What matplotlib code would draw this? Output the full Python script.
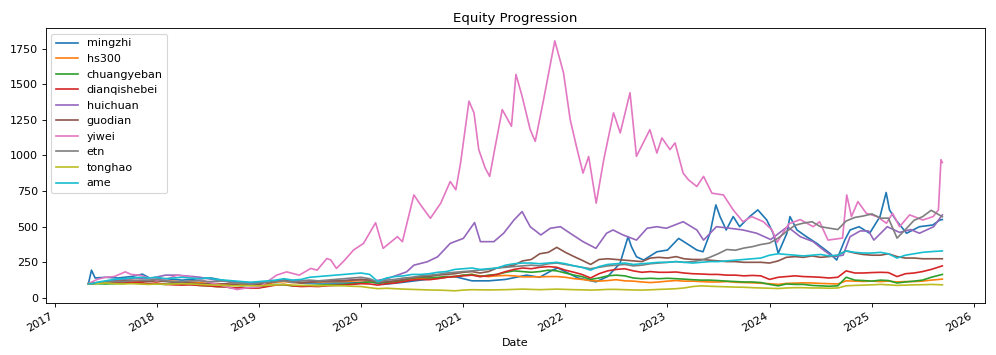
import pandas as pd
import matplotlib
matplotlib.use('Agg')
import matplotlib.pyplot as plt

# monthly sample dates: start, mid-May 2017, then month starts, then last day
months = pd.date_range('2017-06-01', '2025-08-01', freq='MS')
dates = pd.to_datetime(['2017-05-01', '2017-05-15']).append(months).append(pd.to_datetime(['2025-09-10']))

names = ['mingzhi', 'hs300', 'chuangyeban', 'dianqishebei', 'huichuan',
         'guodian', 'yiwei', 'etn', 'tonghao', 'ame']

# mingzhi read at its own turning points
mingzhi_dates = ['2017-05-01', '2017-05-12', '2017-05-25', '2017-07-01', '2017-08-15',
                 '2017-10-01', '2017-11-10', '2017-12-15', '2018-02-01', '2018-04-01',
                 '2018-06-01', '2018-07-15', '2018-09-01', '2018-11-01', '2019-01-01',
                 '2019-03-01', '2019-04-15', '2019-06-01', '2019-08-01', '2019-10-01',
                 '2019-12-01', '2020-02-01', '2020-03-20', '2020-06-01', '2020-08-01',
                 '2020-10-01', '2020-12-01', '2021-02-01', '2021-04-01', '2021-06-01',
                 '2021-08-15', '2021-10-01', '2021-11-15', '2021-12-05', '2022-01-15',
                 '2022-02-15', '2022-04-20', '2022-06-01', '2022-07-15', '2022-08-13',
                 '2022-08-25', '2022-09-12', '2022-10-08', '2022-11-24', '2023-01-01',
                 '2023-02-10', '2023-03-10', '2023-04-16', '2023-05-08', '2023-06-02',
                 '2023-06-23', '2023-07-08', '2023-07-30', '2023-08-24', '2023-09-16',
                 '2023-10-22', '2023-11-20', '2023-12-22', '2024-01-14', '2024-02-01',
                 '2024-03-03', '2024-03-14', '2024-04-08', '2024-05-12', '2024-06-18',
                 '2024-08-04', '2024-08-28', '2024-09-26', '2024-10-15', '2024-11-16',
                 '2024-12-24', '2025-01-30', '2025-02-21', '2025-03-05', '2025-03-28',
                 '2025-05-05', '2025-06-20', '2025-08-07', '2025-09-01', '2025-09-10']
mingzhi = [100, 195, 140, 145, 140,
           150, 167, 130, 135, 125,
           135, 140, 120, 110, 105,
           115, 125, 105, 105, 105,
           105, 115, 95, 110, 125,
           140, 150, 120, 120, 130,
           160, 145, 195, 210, 170,
           140, 113, 150, 242, 430,
           360, 289, 266, 324, 336,
           418, 383, 336, 324, 454,
           653, 571, 477, 571, 500,
           571, 618, 547, 454, 313,
           454, 571, 477, 430, 383,
           313, 266, 406, 477, 500,
           454, 571, 740, 618, 547,
           454, 500, 512, 547, 550]

hs300 = [100, 102,
         105, 108, 110, 112, 115, 118, 118,
         125, 120, 118, 112, 112, 108, 102, 100, 98, 95, 92, 90,
         90, 98, 110, 115, 108, 108, 112, 112, 114, 115, 115, 118,
         122, 118, 112, 110, 115, 118, 132, 138, 138, 138, 145, 150,
         160, 165, 155, 150, 155, 158, 155, 148, 148, 148, 150, 150,
         145, 135, 130, 122, 118, 122, 128, 120, 118, 112, 108, 112,
         118, 122, 118, 118, 115, 112, 112, 115, 110, 108, 106, 103,
         100, 95, 102, 104, 106, 105, 102, 100, 98, 120, 118, 116,
         118, 115, 118, 112, 115, 115, 118, 125,
         132]
chuangyeban = [100, 98,
               100, 98, 100, 102, 105, 102, 100,
               98, 95, 102, 98, 95, 88, 85, 80, 78, 70, 75, 70,
               72, 85, 95, 92, 85, 85, 88, 90, 92, 93, 95, 100,
               105, 112, 105, 110, 115, 125, 140, 145, 140, 145, 150, 150,
               160, 165, 150, 160, 165, 180, 190, 185, 180, 185, 195, 190,
               175, 160, 150, 130, 140, 155, 160, 155, 140, 135, 138, 135,
               138, 135, 132, 128, 125, 125, 122, 118, 115, 112, 112, 108,
               95, 85, 98, 95, 95, 88, 85, 82, 85, 145, 125, 122,
               118, 125, 122, 105, 112, 118, 125, 145,
               165]
dianqishebei = [100, 102,
                105, 108, 110, 112, 110, 108, 100,
                105, 95, 92, 90, 92, 88, 85, 80, 78, 70, 72, 68,
                70, 80, 90, 95, 85, 80, 82, 80, 85, 88, 90, 95,
                100, 98, 90, 100, 105, 115, 125, 130, 128, 135, 145, 150,
                155, 160, 150, 155, 165, 185, 200, 210, 205, 215, 220, 215,
                195, 180, 165, 140, 170, 190, 200, 205, 190, 180, 185, 180,
                180, 182, 175, 170, 168, 165, 165, 160, 160, 155, 158, 155,
                130, 145, 150, 155, 150, 148, 145, 140, 145, 190, 175, 175,
                178, 180, 178, 150, 170, 175, 185, 200,
                225]

# huichuan read at its own turning points
huichuan_dates = ['2017-05-01', '2017-07-01', '2017-09-01', '2017-10-15', '2017-12-01',
                  '2018-02-01', '2018-03-15', '2018-06-01', '2018-08-01', '2018-10-01',
                  '2019-01-01', '2019-04-01', '2019-07-01', '2019-10-01', '2020-01-01',
                  '2020-02-20', '2020-04-05', '2020-06-12', '2020-07-08', '2020-08-25',
                  '2020-10-01', '2020-11-15', '2021-01-01', '2021-02-10', '2021-03-03',
                  '2021-04-20', '2021-05-25', '2021-07-01', '2021-07-30', '2021-08-28',
                  '2021-10-05', '2021-11-08', '2021-12-14', '2022-01-18', '2022-03-05',
                  '2022-04-20', '2022-05-28', '2022-06-20', '2022-07-26', '2022-09-12',
                  '2022-10-20', '2022-11-24', '2022-12-28', '2023-02-26', '2023-04-16',
                  '2023-05-10', '2023-06-25', '2023-08-12', '2023-09-28', '2023-11-16',
                  '2024-01-05', '2024-03-05', '2024-04-20', '2024-06-05', '2024-07-12',
                  '2024-08-15', '2024-09-20', '2024-10-15', '2024-11-20', '2024-12-20',
                  '2025-01-08', '2025-02-25', '2025-04-10', '2025-05-20', '2025-06-20',
                  '2025-08-10', '2025-09-10']
huichuan = [100, 115, 130, 140, 135,
            160, 160, 146, 125, 110,
            100, 125, 120, 120, 130,
            120, 136, 183, 230, 254,
            289, 383, 418, 529, 395,
            395, 454, 547, 606, 500,
            442, 489, 500, 454, 395,
            348, 454, 477, 442, 406,
            489, 500, 489, 535, 477,
            406, 500, 489, 477, 454,
            410, 500, 430, 395, 336,
            289, 300, 430, 470, 470,
            406, 500, 460, 480, 454,
            500, 583]

guodian = [100, 102,
           105, 110, 115, 120, 125, 120, 115,
           120, 115, 110, 110, 105, 100, 100, 95, 100, 95, 95, 90,
           95, 105, 115, 125, 110, 105, 110, 115, 120, 120, 120, 125,
           130, 125, 110, 115, 120, 130, 140, 150, 150, 160, 165, 170,
           180, 185, 175, 185, 210, 220, 230, 260, 270, 310, 320, 355,
           320, 290, 265, 235, 270, 275, 270, 265, 260, 255, 280, 285,
           280, 290, 275, 270, 270, 265, 260, 255, 255, 250, 250, 250,
           245, 260, 285, 290, 285, 295, 285, 290, 300, 330, 315, 305,
           300, 300, 310, 290, 280, 280, 275, 275,
           275]

# yiwei read at its own turning points
yiwei_dates = ['2017-05-01', '2017-06-01', '2017-07-01', '2017-08-01', '2017-09-10',
               '2017-10-01', '2017-11-01', '2017-12-01', '2018-01-01', '2018-02-01',
               '2018-03-15', '2018-05-01', '2018-07-01', '2018-08-15', '2018-10-15',
               '2018-11-15', '2019-01-05', '2019-03-05', '2019-04-10', '2019-05-25',
               '2019-07-05', '2019-07-28', '2019-09-01', '2019-09-15', '2019-10-05',
               '2019-11-01', '2019-12-05', '2020-01-10', '2020-02-22', '2020-03-20',
               '2020-05-10', '2020-05-28', '2020-07-08', '2020-08-01', '2020-09-05',
               '2020-10-12', '2020-11-15', '2020-12-05', '2020-12-22', '2021-01-21',
               '2021-02-08', '2021-02-25', '2021-03-20', '2021-04-05', '2021-04-25',
               '2021-05-20', '2021-06-22', '2021-07-08', '2021-07-30', '2021-08-28',
               '2021-09-15', '2021-10-15', '2021-11-24', '2021-12-25', '2022-01-18',
               '2022-02-12', '2022-03-05', '2022-03-25', '2022-04-21', '2022-05-18',
               '2022-06-22', '2022-07-16', '2022-08-20', '2022-09-12', '2022-10-30',
               '2022-11-24', '2022-12-12', '2023-01-10', '2023-01-28', '2023-02-26',
               '2023-03-17', '2023-04-16', '2023-05-10', '2023-06-09', '2023-07-20',
               '2023-08-24', '2023-09-28', '2023-10-29', '2023-12-10', '2024-01-10',
               '2024-01-28', '2024-03-10', '2024-04-20', '2024-06-05', '2024-06-28',
               '2024-07-28', '2024-09-18', '2024-10-03', '2024-10-20', '2024-11-12',
               '2024-12-12', '2025-01-20', '2025-02-22', '2025-03-16', '2025-04-10',
               '2025-05-16', '2025-07-02', '2025-08-08', '2025-08-27', '2025-09-05',
               '2025-09-10']
yiwei = [100, 130, 145, 150, 183,
         165, 160, 140, 125, 130,
         160, 148, 113, 90, 59,
         70, 78, 160, 183, 160,
         207, 195, 277, 266, 207,
         260, 336, 383, 528, 348,
         430, 395, 723, 653, 559,
         665, 817, 759, 947, 1381,
         1299, 1041, 912, 853, 1064,
         1322, 1205, 1569, 1416, 1181,
         1099, 1393, 1804, 1581, 1252,
         1041, 876, 993, 665, 970,
         1299, 1158, 1440, 994, 1181,
         1017, 1123, 1041, 1088, 876,
         829, 782, 853, 735, 723,
         618, 535, 571, 535, 477,
         390, 520, 550, 500, 535,
         406, 420, 723, 571, 676,
         594, 571, 524, 594, 500,
         583, 547, 571, 618, 970,
         950]

etn = [100, 100,
       105, 110, 115, 115, 120, 125, 125,
       130, 120, 115, 115, 120, 120, 115, 115, 120, 105, 105, 95,
       105, 110, 115, 120, 110, 120, 125, 120, 125, 130, 135, 140,
       145, 135, 110, 125, 130, 140, 145, 155, 160, 165, 175, 180,
       185, 190, 195, 200, 210, 215, 220, 225, 230, 225, 240, 245,
       235, 225, 215, 205, 215, 225, 230, 235, 225, 230, 240, 245,
       250, 255, 250, 255, 265, 285, 310, 340, 335, 350, 360, 375,
       385, 420, 465, 510, 525, 535, 500, 490, 480, 540, 565, 575,
       590, 560, 560, 420, 480, 545, 570, 615,
       570]
tonghao = [100, 100,
           102, 105, 100, 98, 100, 98, 95,
           98, 95, 98, 100, 98, 95, 92, 90, 88, 85, 88, 85,
           85, 88, 92, 95, 90, 88, 88, 85, 88, 86, 85, 82,
           80, 72, 65, 68, 65, 62, 60, 58, 56, 55, 53, 50,
           55, 58, 57, 56, 57, 58, 60, 62, 60, 58, 60, 62,
           60, 58, 57, 55, 57, 60, 60, 58, 56, 55, 57, 60,
           62, 65, 70, 80, 85, 82, 80, 78, 76, 75, 72, 70,
           68, 66, 70, 72, 72, 70, 70, 68, 70, 85, 88, 90,
           92, 95, 92, 88, 90, 92, 93, 95,
           92]
ame = [100, 100,
       110, 120, 130, 135, 140, 145, 140,
       145, 135, 140, 145, 140, 135, 140, 130, 125, 120, 115, 110,
       115, 120, 125, 135, 125, 130, 145, 150, 155, 160, 165, 170,
       175, 165, 115, 140, 150, 155, 165, 165, 170, 180, 185, 200,
       205, 210, 200, 205, 210, 230, 240, 245, 245, 240, 245, 250,
       240, 225, 215, 195, 220, 235, 240, 245, 235, 240, 245, 250,
       250, 255, 250, 245, 250, 255, 255, 260, 265, 270, 275, 280,
       300, 310, 305, 300, 295, 300, 305, 295, 300, 330, 320, 315,
       315, 320, 310, 280, 300, 310, 320, 325,
       330]

series = [(pd.to_datetime(mingzhi_dates), mingzhi), (dates, hs300),
          (dates, chuangyeban), (dates, dianqishebei),
          (pd.to_datetime(huichuan_dates), huichuan), (dates, guodian),
          (pd.to_datetime(yiwei_dates), yiwei), (dates, etn),
          (dates, tonghao), (dates, ame)]

fig, ax = plt.subplots(figsize=(12.45, 4.4375), dpi=80)
for name, (x, values) in zip(names, series):
    ax.plot(x, values, label=name)

ax.set_title('Equity Progression')
ax.set_xlabel('Date')
ax.legend(loc='upper left')
fig.autofmt_xdate()
fig.subplots_adjust(left=0.0459, right=0.989, top=0.920, bottom=0.1456)
plt.savefig('out.png', dpi=80)
